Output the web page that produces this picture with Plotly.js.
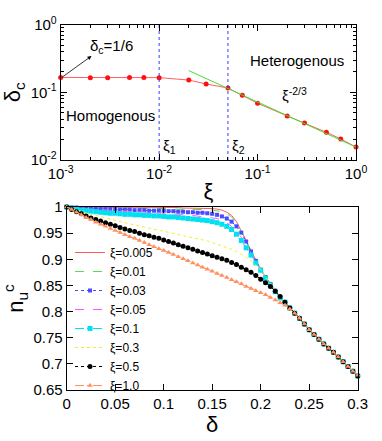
<!DOCTYPE html>
<html>
<head>
<meta charset="utf-8">
<script src="https://cdn.plot.ly/plotly-3.0.1.min.js"></script>
<style>
html, body { margin: 0; padding: 0; background: #fff; }
#chart { width: 382px; height: 441px; }
</style>
</head>
<body>
<div id="chart"></div>
<script>
// ---- top panel: delta_c vs xi (log-log) ----
const xiVals = [0.001, 0.002, 0.003, 0.005, 0.007, 0.01, 0.02, 0.03, 0.05, 0.07, 0.1, 0.2, 0.3, 0.5, 0.7, 1.0];
const deltaC = [0.166, 0.165, 0.165, 0.166, 0.166, 0.165, 0.152, 0.133, 0.116, 0.0906, 0.069, 0.0448, 0.0353, 0.0257, 0.0205, 0.0155];
const fitXi = [0.02, 1.0];
const fitDelta = [0.210, 0.0155];
const xiMarks = [0.01, 0.05];
const xTickVals = [0.001, 0.01, 0.1, 1];
const xTickText = ['10<sup>-3</sup>', '10<sup>-2</sup>', '10<sup>-1</sup>', '10<sup>0</sup>'];
const yTickVals = [0.01, 0.1, 1];
const yTickText = ['10<sup>-2</sup>', '10<sup>-1</sup>', '10<sup>0</sup>'];
const minorX = [0.002, 0.003, 0.004, 0.005, 0.006, 0.007, 0.008, 0.009, 0.02, 0.03, 0.04, 0.05, 0.06, 0.07, 0.08, 0.09, 0.2, 0.3, 0.4, 0.5, 0.6, 0.7, 0.8, 0.9];
const minorY = [0.02, 0.03, 0.04, 0.05, 0.06, 0.07, 0.08, 0.09, 0.2, 0.3, 0.4, 0.5, 0.6, 0.7, 0.8, 0.9];

// ---- bottom panel: n_u^c vs delta ----
const deltaGrid = [...Array(61).keys()].map(i => +(i * 0.005).toFixed(3));
const xiNames = ['ξ=0.005', 'ξ=0.01', 'ξ=0.03', 'ξ=0.05', 'ξ=0.1', 'ξ=0.3', 'ξ=0.5', 'ξ=1.0'];
const tail = [0.818, 0.807, 0.797, 0.787, 0.776, 0.765, 0.756, 0.747, 0.738, 0.730, 0.722, 0.713, 0.704, 0.695, 0.686, 0.677];

const nu005 = [1.0, 1.0, 1.0, 1.0, 0.999, 0.999, 0.999, 0.999, 0.999, 0.999,
    0.999, 0.999, 0.999, 0.999, 0.999, 0.999, 0.999, 0.999, 0.999, 0.999,
    0.999, 0.999, 0.999, 0.999, 0.998, 0.998, 0.998, 0.998, 0.998, 0.998,
    0.997, 0.996, 0.994, 0.990, 0.984, 0.972, 0.955, 0.936, 0.916, 0.897,
    0.881, 0.866, 0.853, 0.840, 0.828, ...tail];
const nu01 = [1.0, 1.0, 0.999, 0.999, 0.999, 0.999, 0.998, 0.998, 0.998, 0.998,
    0.998, 0.998, 0.998, 0.998, 0.997, 0.997, 0.997, 0.997, 0.997, 0.997,
    0.997, 0.997, 0.996, 0.996, 0.996, 0.996, 0.996, 0.995, 0.995, 0.995,
    0.994, 0.993, 0.991, 0.987, 0.981, 0.970, 0.954, 0.935, 0.915, 0.897,
    0.881, 0.866, 0.853, 0.840, 0.828, ...tail];
const nu03 = [1.0, 0.999, 0.999, 0.998, 0.998, 0.997, 0.997, 0.996, 0.996, 0.996,
    0.996, 0.995, 0.995, 0.995, 0.994, 0.994, 0.994, 0.993, 0.993, 0.993,
    0.993, 0.992, 0.992, 0.991, 0.991, 0.990, 0.990, 0.989, 0.989, 0.988,
    0.987, 0.985, 0.982, 0.978, 0.972, 0.963, 0.951, 0.934, 0.915, 0.897,
    0.880, 0.866, 0.853, 0.840, 0.828, ...tail];
const nu05 = [1.0, 0.999, 0.998, 0.997, 0.997, 0.996, 0.995, 0.995, 0.994, 0.994,
    0.993, 0.993, 0.992, 0.992, 0.991, 0.991, 0.990, 0.990, 0.989, 0.989,
    0.988, 0.988, 0.987, 0.986, 0.986, 0.985, 0.984, 0.983, 0.982, 0.981,
    0.980, 0.978, 0.975, 0.970, 0.963, 0.953, 0.942, 0.928, 0.912, 0.895,
    0.879, 0.865, 0.852, 0.839, 0.827, ...tail];
const nu1 = [1.0, 0.998, 0.996, 0.994, 0.993, 0.992, 0.991, 0.990, 0.989, 0.988,
    0.988, 0.987, 0.986, 0.986, 0.985, 0.985, 0.984, 0.984, 0.983, 0.983,
    0.982, 0.981, 0.981, 0.980, 0.979, 0.978, 0.977, 0.976, 0.975, 0.974,
    0.972, 0.970, 0.967, 0.963, 0.957, 0.948, 0.936, 0.922, 0.908, 0.893,
    0.879, 0.864, 0.851, 0.838, 0.826, ...tail];
const nu3 = [1.0, 0.997, 0.994, 0.991, 0.989, 0.986, 0.984, 0.981, 0.979, 0.977,
    0.974, 0.972, 0.970, 0.968, 0.966, 0.964, 0.962, 0.960, 0.958, 0.956,
    0.954, 0.952, 0.950, 0.948, 0.946, 0.944, 0.941, 0.939, 0.937, 0.935,
    0.932, 0.929, 0.926, 0.923, 0.919, 0.915, 0.910, 0.904, 0.897, 0.889,
    0.880, 0.866, 0.853, 0.840, 0.828, ...tail];
const nu5 = [1.0, 0.995, 0.991, 0.987, 0.983, 0.979, 0.976, 0.973, 0.970, 0.967,
    0.964, 0.961, 0.958, 0.955, 0.953, 0.950, 0.947, 0.945, 0.942, 0.940,
    0.937, 0.934, 0.931, 0.928, 0.925, 0.922, 0.919, 0.916, 0.913, 0.910,
    0.907, 0.904, 0.901, 0.898, 0.894, 0.890, 0.885, 0.880, 0.875, 0.869,
    0.862, 0.855, 0.848, 0.839, 0.829, ...tail];
const nu10 = [1.0, 0.995, 0.990, 0.985, 0.980, 0.976, 0.971, 0.967, 0.963, 0.959,
    0.955, 0.951, 0.947, 0.943, 0.940, 0.936, 0.932, 0.928, 0.924, 0.920,
    0.917, 0.913, 0.909, 0.905, 0.901, 0.897, 0.893, 0.889, 0.885, 0.881,
    0.877, 0.873, 0.869, 0.865, 0.861, 0.857, 0.853, 0.848, 0.844, 0.840,
    0.836, 0.832, 0.827, 0.822, 0.817, 0.812, 0.805, 0.797, 0.787, 0.776,
    0.765, 0.756, 0.747, 0.738, 0.730, 0.722, 0.713, 0.704, 0.695, 0.686, 0.678];

const seriesVals = [nu005, nu01, nu03, nu05, nu1, nu3, nu5, nu10];
const colors = ['#ff5a5a', '#55dd55', '#4a4aff', '#ff55ff', '#00e0ee', '#eeee30', '#000000', '#ff9060'];
const symbols = ['cross-thin-open', 'x-thin-open', 'square', 'square-open', 'square', 'circle-open', 'circle', 'triangle-up'];
const sizes = [5, 5, 4, 6, 5, 6, 5, 5];
const dashes = ['solid', 'dash', 'dot', 'dash', 'dashdot', 'dot', 'dot', 'dashdot'];

const font = 'Liberation Sans, Arial, sans-serif';
const W = 382, H = 441;
const px = (x) => x / W, py = (y) => 1 - y / H;

let data = [
    {
        x: xiVals, y: deltaC, xaxis: 'x', yaxis: 'y',
        type: 'scatter', mode: 'lines+markers', showlegend: false,
        line: { color: '#ff6060', width: 1 },
        marker: { color: '#ff1010', size: 5 },
        cliponaxis: false,
    },
    {
        x: fitXi, y: fitDelta, xaxis: 'x', yaxis: 'y',
        type: 'scatter', mode: 'lines', showlegend: false,
        line: { color: '#44dd33', width: 1 },
    },
];
xiMarks.forEach((xm) => {
    data.push({
        x: [xm, xm], y: [yTickVals[0], yTickVals[yTickVals.length - 1]], xaxis: 'x', yaxis: 'y',
        type: 'scatter', mode: 'lines', showlegend: false,
        line: { color: '#3a3aff', width: 1, dash: 'dot' },
    });
});
seriesVals.forEach((vals, i) => {
    const open = symbols[i].includes('open');
    data.push({
        x: deltaGrid, y: vals, xaxis: 'x2', yaxis: 'y2',
        type: 'scatter', mode: 'lines+markers', name: xiNames[i],
        line: { color: colors[i], width: 1, dash: dashes[i] },
        marker: {
            symbol: symbols[i], size: sizes[i],
            color: open ? 'rgba(0,0,0,0)' : colors[i],
            line: { color: colors[i], width: open ? 1.2 : 0 },
        },
        cliponaxis: false,
    });
});

const axisCommon = {
    showline: true, linecolor: '#000', linewidth: 1, mirror: 'ticks',
    ticks: 'inside', ticklen: 6, tickcolor: '#000',
    showgrid: false, zeroline: false,
    tickfont: { family: font, size: 15, color: '#000' },
};

const layout = {
    width: W, height: H,
    margin: { l: 0, r: 0, t: 0, b: 0 },
    paper_bgcolor: '#fff', plot_bgcolor: '#fff',
    font: { family: font, size: 15, color: '#000' },
    xaxis: Object.assign({}, axisCommon, {
        type: 'log', domain: [px(60.7), px(356)], range: [-3, 0], anchor: 'y',
        tickmode: 'array', tickvals: xTickVals, ticktext: xTickText,
        minor: { tickmode: 'array', tickvals: minorX, ticks: 'inside', ticklen: 3, tickcolor: '#000' },
        title: { text: 'ξ', font: { family: font, size: 22 }, standoff: 2 },
    }),
    yaxis: Object.assign({}, axisCommon, {
        type: 'log', domain: [py(160), py(24.7)], range: [-2, 0], anchor: 'x',
        tickmode: 'array', tickvals: yTickVals, ticktext: yTickText,
        minor: { tickmode: 'array', tickvals: minorY, ticks: 'inside', ticklen: 3, tickcolor: '#000' },
        title: { text: 'δ<sub>c</sub>', font: { family: font, size: 22 }, standoff: 6 },
    }),
    xaxis2: Object.assign({}, axisCommon, {
        domain: [px(66.7), px(357.7)], range: [0, 0.3], dtick: 0.05, anchor: 'y2',
        title: { text: 'δ', font: { family: font, size: 22 }, standoff: 2 },
    }),
    yaxis2: Object.assign({}, axisCommon, {
        domain: [py(390), py(207)], range: [0.65, 1], dtick: 0.05, anchor: 'x2',
        title: { text: 'n<sub>u</sub><sup>c</sup>', font: { family: font, size: 22 }, standoff: 6 },
    }),
    legend: {
        x: px(70), y: py(238), xanchor: 'left', yanchor: 'top',
        bgcolor: 'rgba(0,0,0,0)', borderwidth: 0,
        font: { family: font, size: 12, color: '#000' },
        itemwidth: 30,
    },
    annotations: [
        { text: '', xref: 'paper', yref: 'paper', x: px(91.5), y: py(56), ax: -30.5, ay: 22,
          showarrow: true, arrowhead: 2, arrowsize: 1, arrowwidth: 0.8, arrowcolor: '#000', standoff: 0 },
        { text: 'δ<sub>c</sub>=1/6', x: px(112), y: py(47) },
        { text: 'Heterogenous', x: px(296.5), y: py(61) },
        { text: 'ξ<sup>-2/3</sup>', x: px(294), y: py(95) },
        { text: 'Homogenous', x: px(110.5), y: py(115) },
        { text: 'ξ<sub>1</sub>', x: px(169), y: py(146) },
        { text: 'ξ<sub>2</sub>', x: px(238.5), y: py(146) },
    ].map((a) => Object.assign({
        xref: 'paper', yref: 'paper', showarrow: false,
        xanchor: 'center', yanchor: 'middle',
        font: { family: font, size: 15, color: '#000' },
    }, a)),
};

Plotly.newPlot('chart', data, layout, { displayModeBar: false });
</script>
</body>
</html>
